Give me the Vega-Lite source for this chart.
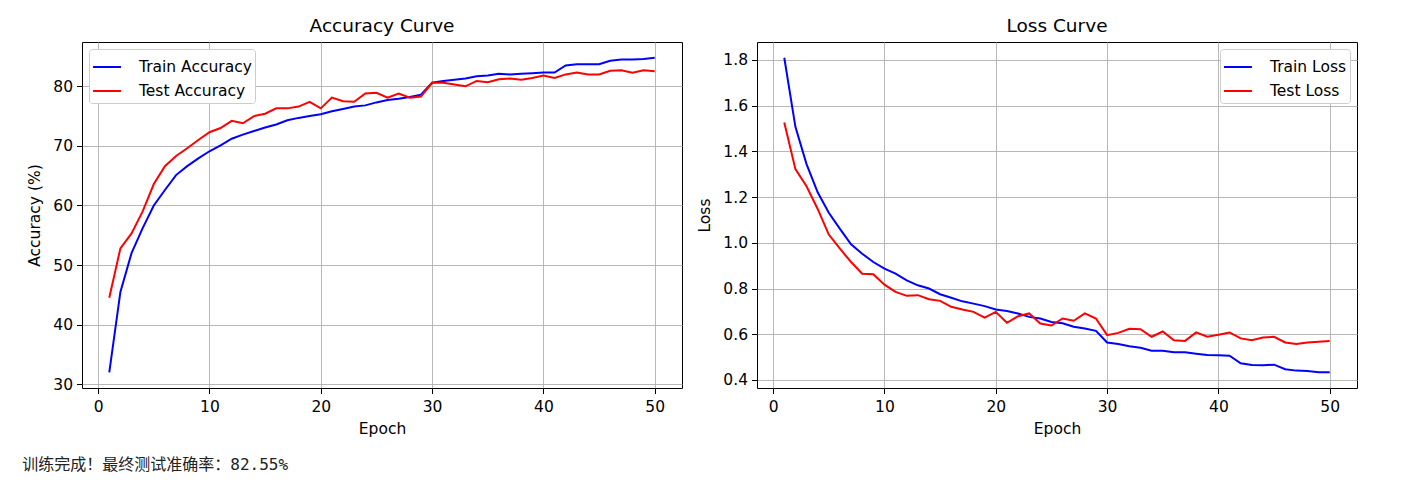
{
  "$schema": "https://vega.github.io/schema/vega-lite/v6.json",
  "background": "white",
  "padding": {"left": 22, "top": 16, "right": 10, "bottom": 10},
  "datasets": {
    "acc": [
      {"epoch":1,"Train Accuracy":32.0,"Test Accuracy":44.5},
      {"epoch":2,"Train Accuracy":45.5,"Test Accuracy":52.8},
      {"epoch":3,"Train Accuracy":52.0,"Test Accuracy":55.3},
      {"epoch":4,"Train Accuracy":56.2,"Test Accuracy":59.0},
      {"epoch":5,"Train Accuracy":60.0,"Test Accuracy":63.6},
      {"epoch":6,"Train Accuracy":62.6,"Test Accuracy":66.6},
      {"epoch":7,"Train Accuracy":65.1,"Test Accuracy":68.3},
      {"epoch":8,"Train Accuracy":66.6,"Test Accuracy":69.6},
      {"epoch":9,"Train Accuracy":67.9,"Test Accuracy":71.0},
      {"epoch":10,"Train Accuracy":69.1,"Test Accuracy":72.3},
      {"epoch":11,"Train Accuracy":70.1,"Test Accuracy":73.0},
      {"epoch":12,"Train Accuracy":71.2,"Test Accuracy":74.2},
      {"epoch":13,"Train Accuracy":71.9,"Test Accuracy":73.8},
      {"epoch":14,"Train Accuracy":72.5,"Test Accuracy":75.0},
      {"epoch":15,"Train Accuracy":73.1,"Test Accuracy":75.4},
      {"epoch":16,"Train Accuracy":73.6,"Test Accuracy":76.3},
      {"epoch":17,"Train Accuracy":74.3,"Test Accuracy":76.3},
      {"epoch":18,"Train Accuracy":74.7,"Test Accuracy":76.6},
      {"epoch":19,"Train Accuracy":75.0,"Test Accuracy":77.4},
      {"epoch":20,"Train Accuracy":75.3,"Test Accuracy":76.3},
      {"epoch":21,"Train Accuracy":75.8,"Test Accuracy":78.1},
      {"epoch":22,"Train Accuracy":76.2,"Test Accuracy":77.5},
      {"epoch":23,"Train Accuracy":76.6,"Test Accuracy":77.4},
      {"epoch":24,"Train Accuracy":76.8,"Test Accuracy":78.8},
      {"epoch":25,"Train Accuracy":77.3,"Test Accuracy":78.9},
      {"epoch":26,"Train Accuracy":77.7,"Test Accuracy":78.1},
      {"epoch":27,"Train Accuracy":77.9,"Test Accuracy":78.8},
      {"epoch":28,"Train Accuracy":78.2,"Test Accuracy":78.1},
      {"epoch":29,"Train Accuracy":78.6,"Test Accuracy":78.3},
      {"epoch":30,"Train Accuracy":80.6,"Test Accuracy":80.6},
      {"epoch":31,"Train Accuracy":80.9,"Test Accuracy":80.6},
      {"epoch":32,"Train Accuracy":81.1,"Test Accuracy":80.3},
      {"epoch":33,"Train Accuracy":81.3,"Test Accuracy":80.0},
      {"epoch":34,"Train Accuracy":81.7,"Test Accuracy":80.9},
      {"epoch":35,"Train Accuracy":81.8,"Test Accuracy":80.7},
      {"epoch":36,"Train Accuracy":82.1,"Test Accuracy":81.2},
      {"epoch":37,"Train Accuracy":82.0,"Test Accuracy":81.3},
      {"epoch":38,"Train Accuracy":82.1,"Test Accuracy":81.1},
      {"epoch":39,"Train Accuracy":82.2,"Test Accuracy":81.4},
      {"epoch":40,"Train Accuracy":82.3,"Test Accuracy":81.8},
      {"epoch":41,"Train Accuracy":82.3,"Test Accuracy":81.4},
      {"epoch":42,"Train Accuracy":83.5,"Test Accuracy":82.0},
      {"epoch":43,"Train Accuracy":83.7,"Test Accuracy":82.3},
      {"epoch":44,"Train Accuracy":83.7,"Test Accuracy":82.0},
      {"epoch":45,"Train Accuracy":83.7,"Test Accuracy":82.0},
      {"epoch":46,"Train Accuracy":84.3,"Test Accuracy":82.6},
      {"epoch":47,"Train Accuracy":84.5,"Test Accuracy":82.7},
      {"epoch":48,"Train Accuracy":84.5,"Test Accuracy":82.3},
      {"epoch":49,"Train Accuracy":84.6,"Test Accuracy":82.7},
      {"epoch":50,"Train Accuracy":84.8,"Test Accuracy":82.55}
    ],
    "loss": [
      {"epoch":1,"Train Loss":1.809,"Test Loss":1.526},
      {"epoch":2,"Train Loss":1.507,"Test Loss":1.322},
      {"epoch":3,"Train Loss":1.344,"Test Loss":1.247},
      {"epoch":4,"Train Loss":1.221,"Test Loss":1.148},
      {"epoch":5,"Train Loss":1.131,"Test Loss":1.036},
      {"epoch":6,"Train Loss":1.061,"Test Loss":0.974},
      {"epoch":7,"Train Loss":0.993,"Test Loss":0.916},
      {"epoch":8,"Train Loss":0.952,"Test Loss":0.865},
      {"epoch":9,"Train Loss":0.916,"Test Loss":0.862},
      {"epoch":10,"Train Loss":0.887,"Test Loss":0.817},
      {"epoch":11,"Train Loss":0.865,"Test Loss":0.785},
      {"epoch":12,"Train Loss":0.836,"Test Loss":0.768},
      {"epoch":13,"Train Loss":0.814,"Test Loss":0.771},
      {"epoch":14,"Train Loss":0.800,"Test Loss":0.753},
      {"epoch":15,"Train Loss":0.775,"Test Loss":0.746},
      {"epoch":16,"Train Loss":0.760,"Test Loss":0.720},
      {"epoch":17,"Train Loss":0.744,"Test Loss":0.708},
      {"epoch":18,"Train Loss":0.734,"Test Loss":0.698},
      {"epoch":19,"Train Loss":0.723,"Test Loss":0.673},
      {"epoch":20,"Train Loss":0.708,"Test Loss":0.698},
      {"epoch":21,"Train Loss":0.702,"Test Loss":0.650},
      {"epoch":22,"Train Loss":0.691,"Test Loss":0.679},
      {"epoch":23,"Train Loss":0.676,"Test Loss":0.691},
      {"epoch":24,"Train Loss":0.669,"Test Loss":0.647},
      {"epoch":25,"Train Loss":0.654,"Test Loss":0.638},
      {"epoch":26,"Train Loss":0.648,"Test Loss":0.669},
      {"epoch":27,"Train Loss":0.633,"Test Loss":0.659},
      {"epoch":28,"Train Loss":0.625,"Test Loss":0.691},
      {"epoch":29,"Train Loss":0.615,"Test Loss":0.669},
      {"epoch":30,"Train Loss":0.564,"Test Loss":0.596},
      {"epoch":31,"Train Loss":0.557,"Test Loss":0.606},
      {"epoch":32,"Train Loss":0.548,"Test Loss":0.624},
      {"epoch":33,"Train Loss":0.541,"Test Loss":0.622},
      {"epoch":34,"Train Loss":0.528,"Test Loss":0.589},
      {"epoch":35,"Train Loss":0.528,"Test Loss":0.612},
      {"epoch":36,"Train Loss":0.521,"Test Loss":0.574},
      {"epoch":37,"Train Loss":0.521,"Test Loss":0.571},
      {"epoch":38,"Train Loss":0.515,"Test Loss":0.608},
      {"epoch":39,"Train Loss":0.509,"Test Loss":0.589},
      {"epoch":40,"Train Loss":0.508,"Test Loss":0.598},
      {"epoch":41,"Train Loss":0.506,"Test Loss":0.608},
      {"epoch":42,"Train Loss":0.473,"Test Loss":0.582},
      {"epoch":43,"Train Loss":0.466,"Test Loss":0.574},
      {"epoch":44,"Train Loss":0.464,"Test Loss":0.586},
      {"epoch":45,"Train Loss":0.467,"Test Loss":0.589},
      {"epoch":46,"Train Loss":0.447,"Test Loss":0.564},
      {"epoch":47,"Train Loss":0.441,"Test Loss":0.557},
      {"epoch":48,"Train Loss":0.439,"Test Loss":0.564},
      {"epoch":49,"Train Loss":0.434,"Test Loss":0.567},
      {"epoch":50,"Train Loss":0.434,"Test Loss":0.571}
    ]
  },
  "title": {
    "text": "训练完成！最终测试准确率：82.55%",
    "orient": "bottom",
    "anchor": "start",
    "frame": "bounds",
    "offset": 20,
    "dx": -5,
    "font": "DejaVu Sans Mono, Noto Sans CJK SC",
    "fontSize": 16,
    "fontWeight": "normal",
    "color": "#222222"
  },
  "spacing": 14,
  "resolve": {"scale": {"color": "independent", "x": "independent", "y": "independent"}, "legend": {"color": "independent"}},
  "hconcat": [
    {
      "width": 600,
      "height": 346,
      "title": {"text": "Accuracy Curve"},
      "data": {"name": "acc"},
      "transform": [{"fold": ["Train Accuracy", "Test Accuracy"], "as": ["series", "value"]}],
      "mark": {"type": "line", "strokeWidth": 2},
      "encoding": {
        "x": {"field": "epoch", "type": "quantitative", "scale": {"domain": [-1.45, 52.45], "nice": false, "zero": false},
              "axis": {"values": [0, 10, 20, 30, 40, 50], "title": "Epoch"}},
        "y": {"field": "value", "type": "quantitative", "scale": {"domain": [29.36, 87.44], "nice": false, "zero": false},
              "axis": {"values": [30, 40, 50, 60, 70, 80], "title": "Accuracy (%)"}},
        "color": {"field": "series", "type": "nominal",
                  "scale": {"domain": ["Train Accuracy", "Test Accuracy"], "range": ["#0000ff", "#ff0000"]},
                  "legend": {"orient": "top-left"}}
      }
    },
    {
      "width": 600,
      "height": 346,
      "title": {"text": "Loss Curve"},
      "data": {"name": "loss"},
      "transform": [{"fold": ["Train Loss", "Test Loss"], "as": ["series", "value"]}],
      "mark": {"type": "line", "strokeWidth": 2},
      "encoding": {
        "x": {"field": "epoch", "type": "quantitative", "scale": {"domain": [-1.45, 52.45], "nice": false, "zero": false},
              "axis": {"values": [0, 10, 20, 30, 40, 50], "title": "Epoch"}},
        "y": {"field": "value", "type": "quantitative", "scale": {"domain": [0.365, 1.878], "nice": false, "zero": false},
              "axis": {"values": [0.4, 0.6, 0.8, 1.0, 1.2, 1.4, 1.6, 1.8], "format": ".1f", "title": "Loss"}},
        "color": {"field": "series", "type": "nominal",
                  "scale": {"domain": ["Train Loss", "Test Loss"], "range": ["#0000ff", "#ff0000"]},
                  "legend": {"orient": "top-right"}}
      }
    }
  ],
  "config": {
    "font": "DejaVu Sans",
    "view": {"stroke": "#000000", "strokeWidth": 1},
    "title": {"fontSize": 18.5, "fontWeight": "normal", "color": "#000000", "offset": 7, "anchor": "middle", "font": "DejaVu Sans"},
    "axis": {
      "domain": false,
      "grid": true,
      "gridColor": "#b0b0b0",
      "gridWidth": 0.9,
      "gridOpacity": 1,
      "tickColor": "#000000",
      "tickSize": 5.5,
      "tickWidth": 1,
      "labelFont": "DejaVu Sans",
      "labelFontSize": 15.5,
      "labelColor": "#000000",
      "labelPadding": 4,
      "titleFont": "DejaVu Sans",
      "titleFontSize": 15.5,
      "titleFontWeight": "normal",
      "titleColor": "#000000",
      "titlePadding": 6
    },
    "axisX": {"labelFlush": false, "labelPadding": 6},
    "axisY": {"titlePadding": 10, "labelFlush": false},
    "legend": {
      "title": null,
      "offset": 7,
      "padding": 3,
      "strokeColor": "#cccccc",
      "fillColor": "#ffffff",
      "cornerRadius": 3,
      "labelFont": "DejaVu Sans",
      "labelFontSize": 15.5,
      "labelColor": "#000000",
      "labelOffset": 17,
      "symbolType": "stroke",
      "symbolStrokeWidth": 2,
      "symbolSize": 780,
      "rowPadding": 0
    }
  }
}
